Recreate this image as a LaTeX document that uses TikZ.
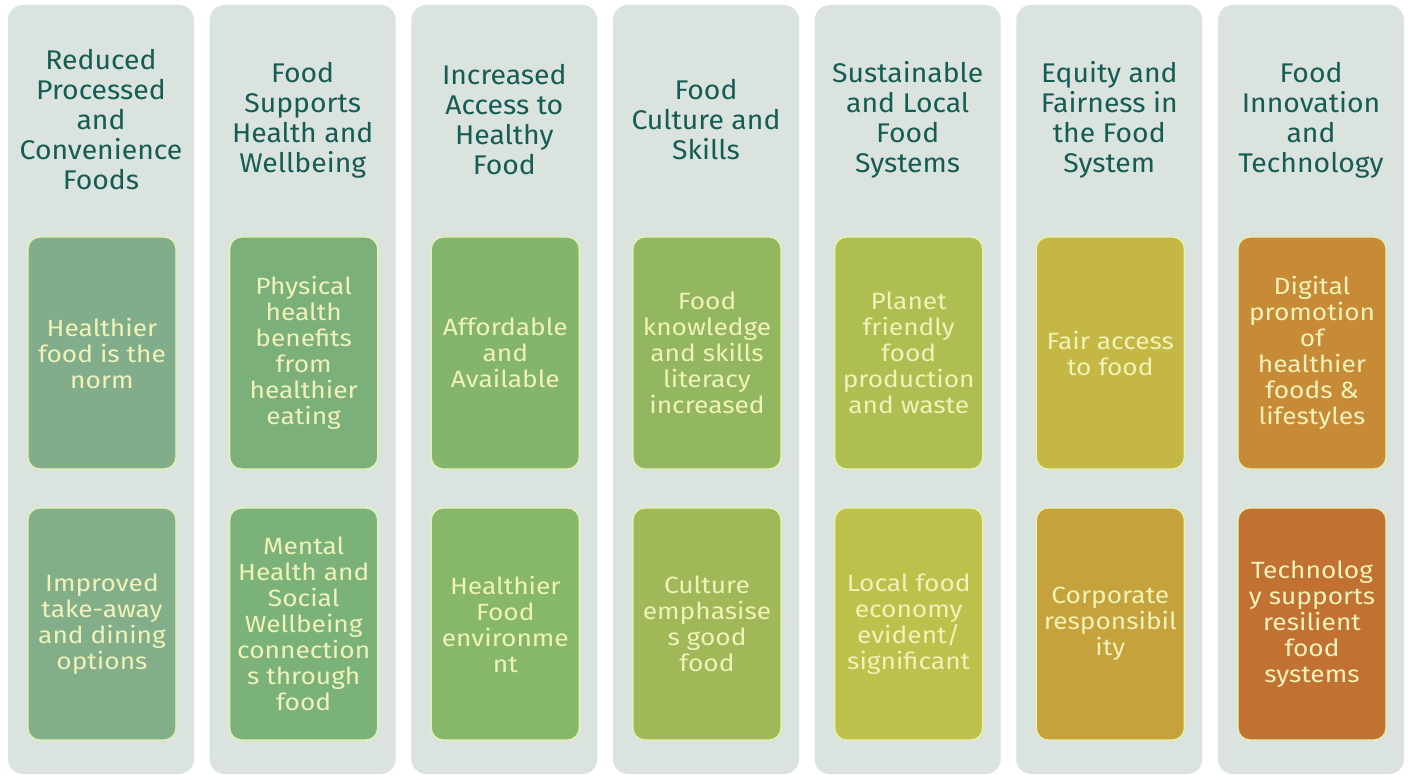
\documentclass[tikz,border=0pt]{standalone}
\usepackage{fontspec}
\setmainfont{Fira Sans}[FakeStretch=1.05]
\newfontfamily\cardfont{Fira Sans}[FakeStretch=1.12]
\definecolor{panelfill}{HTML}{DAE3DE}
\definecolor{headtext}{HTML}{145C54}
\definecolor{cardtext}{HTML}{F0F2B8}
\definecolor{cardline}{HTML}{E6F4B0}
\definecolor{ca1}{HTML}{82AD8A}\definecolor{cb1}{HTML}{82AE8A}
\definecolor{ca2}{HTML}{7BB07A}\definecolor{cb2}{HTML}{7AB27A}
\definecolor{ca3}{HTML}{84B56C}\definecolor{cb3}{HTML}{87B76A}
\definecolor{ca4}{HTML}{93B760}\definecolor{cb4}{HTML}{A0B858}
\definecolor{ca5}{HTML}{AEBE50}\definecolor{cb5}{HTML}{BEC04C}
\definecolor{ca6}{HTML}{C4B744}\definecolor{cb6}{HTML}{C5A23C}
\definecolor{ca7}{HTML}{C78B38}\definecolor{cb7}{HTML}{C17233}
\begin{document}
\begin{tikzpicture}[x=1pt,y=-1pt,
  panelbox/.style={rectangle, fill=panelfill, draw=none, rounded corners=15pt,
    minimum width=186pt, minimum height=769pt, inner sep=0pt},
  headline/.style={text=headtext, align=center, inner sep=0pt,
    font=\fontsize{27}{30}\selectfont},
  card/.style={rectangle, draw=cardline, line width=1.2pt, rounded corners=12pt,
    minimum width=148pt, minimum height=232pt, inner sep=0pt,
    text=cardtext, align=center, font=\cardfont\fontsize{23.5}{26}\selectfont}]
\useasboundingbox[fill=white] (0,0) rectangle (1410,775);

% background columns
\node[panelbox] (p1) at (101,389.5) {};
\node[panelbox] (p2) at (302.7,389.5) {};
\node[panelbox] (p3) at (504.3,389.5) {};
\node[panelbox] (p4) at (706,389.5) {};
\node[panelbox] (p5) at (907.7,389.5) {};
\node[panelbox] (p6) at (1109.3,389.5) {};
\node[panelbox] (p7) at (1311,389.5) {};

% column headings
\node[headline] (h1) at (101,120) {Reduced\\Processed\\and\\Convenience\\Foods};
\node[headline] (h2) at (302.7,120) {Food\\Supports\\Health and\\Wellbeing};
\node[headline] (h3) at (504.3,120) {Increased\\Access to\\Healthy\\Food};
\node[headline] (h4) at (706,120) {Food\\Culture and\\Skills};
\node[headline] (h5) at (907.7,120) {Sustainable\\and Local\\Food\\Systems};
\node[headline] (h6) at (1109.3,120) {Equity and\\Fairness in\\the Food\\System};
\node[headline] (h7) at (1311,120) {Food\\Innovation\\and\\Technology};

% upper cards
\node[card, fill=ca1] (a1) at (102,353) {Healthier\\food is the\\norm};
\node[card, fill=ca2] (a2) at (303.7,353) {Physical\\health\\benefits\\from\\healthier\\eating};
\node[card, fill=ca3] (a3) at (505.3,353) {Affordable\\and\\Available};
\node[card, fill=ca4] (a4) at (707,353) {Food\\knowledge\\and skills\\literacy\\increased};
\node[card, fill=ca5] (a5) at (908.7,353) {Planet\\friendly\\food\\production\\and waste};
\node[card, fill=ca6] (a6) at (1110.3,353) {Fair access\\to food};
\node[card, fill=ca7] (a7) at (1312,353) {Digital\\promotion\\of\\healthier\\foods \&\\lifestyles};

% lower cards
\node[card, fill=cb1] (b1) at (102,624) {Improved\\take-away\\and dining\\options};
\node[card, fill=cb2] (b2) at (303.7,624) {Mental\\Health and\\Social\\Wellbeing\\connection\\s through\\food};
\node[card, fill=cb3] (b3) at (505.3,624) {Healthier\\Food\\environme\\nt};
\node[card, fill=cb4] (b4) at (707,624) {Culture\\emphasise\\s good\\food};
\node[card, fill=cb5] (b5) at (908.7,624) {Local food\\economy\\evident/\\significant};
\node[card, fill=cb6] (b6) at (1110.3,624) {Corporate\\responsibil\\ity};
\node[card, fill=cb7] (b7) at (1312,624) {Technolog\\y supports\\resilient\\food\\systems};
\end{tikzpicture}
\end{document}
